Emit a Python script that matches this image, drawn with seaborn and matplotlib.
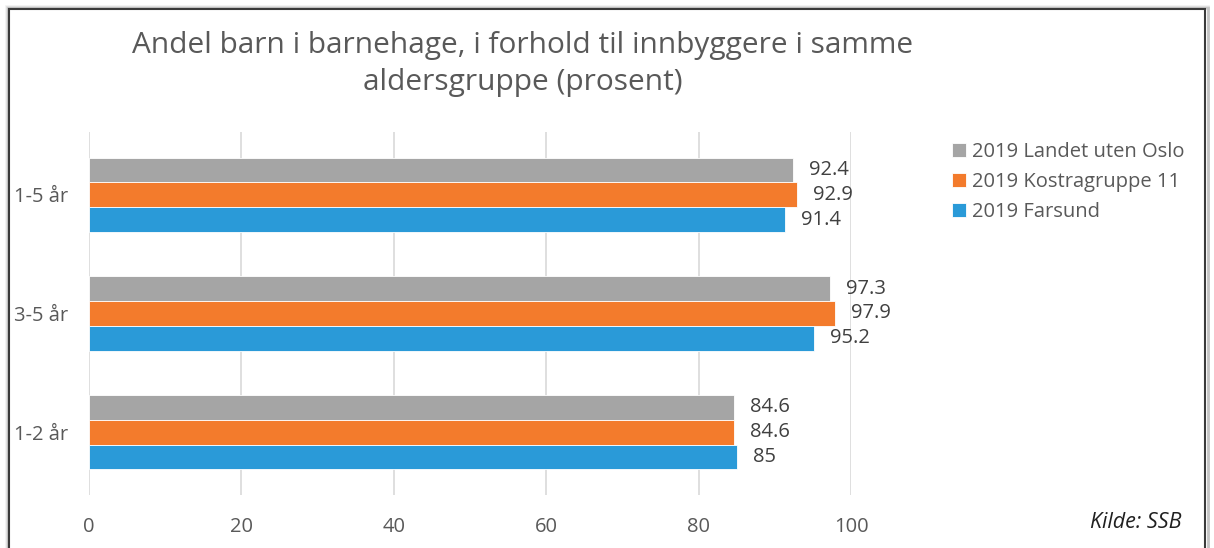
import pandas as pd
import matplotlib.pyplot as plt
import seaborn as sns
from matplotlib.patches import Rectangle

# Data
age_groups = ['1-5 år', '3-5 år', '1-2 år']
series = ['2019 Landet uten Oslo', '2019 Kostragruppe 11', '2019 Farsund']
landet = [92.4, 97.3, 84.6]
kostra = [92.9, 97.9, 84.6]
farsund = [91.4, 95.2, 85]
colors = ['#A5A5A5', '#F37B2C', '#2A9AD8']

rows = []
for name, vals in zip(series, [landet, kostra, farsund]):
    for grp, v in zip(age_groups, vals):
        rows.append({'group': grp, 'series': name, 'value': v})
df = pd.DataFrame(rows)

sns.set_style('white')
plt.rcParams['font.family'] = ['Open Sans', 'DejaVu Sans']

fs = 14.5
fig = plt.figure(figsize=(12.14, 5.48), dpi=100)
ax = fig.add_axes([89 / 1214, 1 - 495 / 548, (851 - 89) / 1214, (495 - 132) / 548])

sns.barplot(data=df, y='group', x='value', hue='series', order=age_groups,
            hue_order=series, palette=colors, orient='h', width=0.63, gap=0,
            edgecolor='white', linewidth=0.6, saturation=1, ax=ax, legend=True)

# value labels
for cont, name in zip(ax.containers, series):
    vals = df[df['series'] == name]['value'].tolist()
    labels = [f'{v:g}' for v in vals]
    ax.bar_label(cont, labels=labels, padding=11.5, fontsize=fs, color='#404040')

ax.set_xlim(0, 100)
ax.set_ylim(2.53, -0.53)
ax.set_xticks([0, 20, 40, 60, 80, 100])
ax.xaxis.grid(True, color='#D9D9D9', linewidth=1.2)
ax.yaxis.grid(False)
ax.set_axisbelow(True)
for s in ax.spines.values():
    s.set_visible(False)
ax.tick_params(axis='x', length=0, pad=16, labelsize=fs, labelcolor='#595959')
ax.tick_params(axis='y', length=0, pad=15, labelsize=fs, labelcolor='#595959')
ax.set_xlabel('')
ax.set_ylabel('')

handles, labs = ax.get_legend_handles_labels()
leg = fig.legend(handles, labs, loc='upper left', bbox_to_anchor=(944 / 1214, 1 - 134 / 548),
                 frameon=False, fontsize=fs, handlelength=0.7, handleheight=0.7,
                 handletextpad=0.3, labelspacing=0.5, borderaxespad=0)
for t in leg.get_texts():
    t.set_color('#595959')
ax.get_legend().remove()

fig.text(523 / 1214, 1 - 64 / 548,
         'Andel barn i barnehage, i forhold til innbyggere i samme\naldersgruppe (prosent)',
         ha='center', va='center', fontsize=21.5, color='#595959', linespacing=1.33)

fig.text(1182 / 1214, 1 - 523 / 548, 'Kilde: SSB', ha='right', va='center',
         fontsize=15.5, style='italic', color='#202020')

# frame with a soft shadow
for i, a in enumerate([0.05, 0.08, 0.12]):
    fig.patches.append(Rectangle(((9 - 3 + i) / 1214, -0.05), (1196 + 6 - i) / 1214,
                                 (548 - 9 + 3 - i) / 548 + 0.05,
                                 transform=fig.transFigure, fill=False,
                                 edgecolor='black', alpha=a, linewidth=2))
fig.patches.append(Rectangle((9 / 1214, -0.05), 1196 / 1214, (548 - 9) / 548 + 0.05,
                             transform=fig.transFigure, fill=False,
                             edgecolor='#3A3A3A', linewidth=1.5))

fig.savefig('out.png', dpi=100)
